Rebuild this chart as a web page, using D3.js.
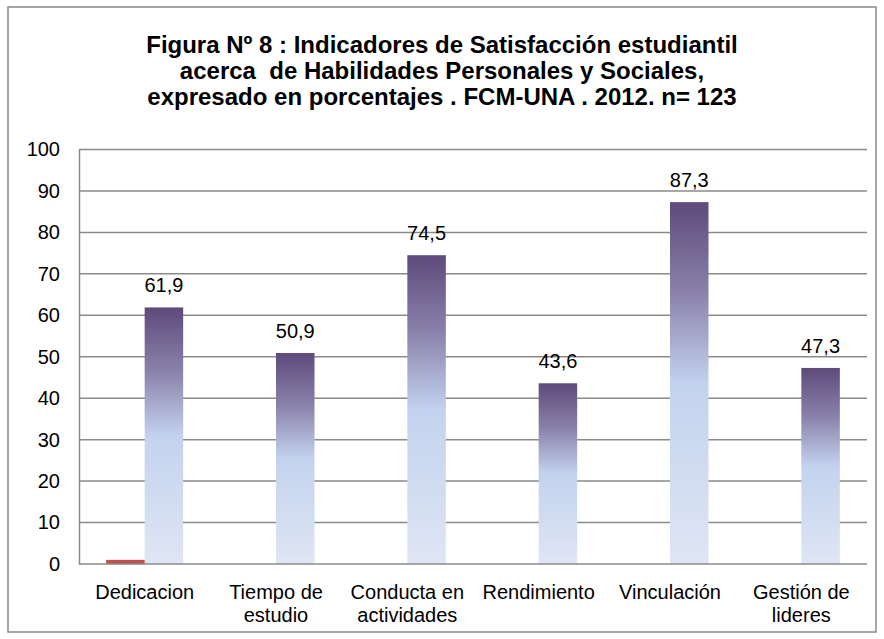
<!DOCTYPE html>
<html>
<head>
<meta charset="utf-8">
<script src="https://cdn.jsdelivr.net/npm/d3@7"></script>
<style>
  html, body { margin: 0; padding: 0; background: #fff; }
  svg { display: block; font-family: "Liberation Sans", Arial, sans-serif; }
</style>
</head>
<body>
<svg id="chart" width="884" height="639"></svg>
<script>
const titleLines = [
  "Figura Nº 8 : Indicadores de Satisfacción estudiantil",
  "acerca  de Habilidades Personales y Sociales,",
  "expresado en porcentajes . FCM-UNA . 2012. n= 123"
];
const categories = [
  ["Dedicacion"],
  ["Tiempo de", "estudio"],
  ["Conducta en", "actividades"],
  ["Rendimiento"],
  ["Vinculación"],
  ["Gestión de", "lideres"]
];
const seriesRed = [1, 0, 0, 0, 0, 0];
const seriesMain = [61.9, 50.9, 74.5, 43.6, 87.3, 47.3];
const mainLabels = ["61,9", "50,9", "74,5", "43,6", "87,3", "47,3"];
const yTicks = [0, 10, 20, 30, 40, 50, 60, 70, 80, 90, 100];

const svg = d3.select("#chart");
const margin = { left: 79, right: 867, top: 149.5, bottom: 564 };

// frame
svg.append("rect").attr("x", 8).attr("y", 7).attr("width", 868).attr("height", 625)
  .attr("fill", "#fff").attr("stroke", "#898989").attr("stroke-width", 1.5);

// title
svg.append("g").selectAll("text").data(titleLines).join("text")
  .attr("x", 442).attr("y", (d, i) => 53 + i * 26)
  .attr("text-anchor", "middle").attr("font-size", 24).attr("font-weight", "bold")
  .attr("fill", "#000")
  .style("white-space", "pre")
  .text(d => d);

const keys = categories.map((c, i) => i);
const x = d3.scaleBand().domain(keys).range([margin.left, margin.right]).paddingInner(0).paddingOuter(0);
const y = d3.scaleLinear().domain([0, 100]).range([margin.bottom, margin.top]);
const barW = 38.5;

// gradient
const defs = svg.append("defs");
const grad = defs.append("linearGradient").attr("id", "barGrad")
  .attr("x1", 0).attr("y1", 0).attr("x2", 0).attr("y2", 1);
grad.append("stop").attr("offset", "0%").attr("stop-color", "#5e4a7b");
grad.append("stop").attr("offset", "25%").attr("stop-color", "#8a82ab");
grad.append("stop").attr("offset", "50%").attr("stop-color", "#c3d2ee");
grad.append("stop").attr("offset", "100%").attr("stop-color", "#dfe6f4");

// gridlines
svg.append("g").selectAll("line").data(yTicks.filter(t => t > 0)).join("line")
  .attr("x1", margin.left).attr("x2", margin.right)
  .attr("y1", d => y(d)).attr("y2", d => y(d))
  .attr("stroke", "#8a8a8a").attr("stroke-width", 1.5);

// y axis
const yAxis = d3.axisLeft(y).tickValues(yTicks).tickSize(0).tickPadding(19);
const gy = svg.append("g").attr("transform", `translate(${margin.left},0)`).call(yAxis);
gy.select(".domain").attr("stroke", "#8a8a8a").attr("stroke-width", 1.5);
gy.selectAll("text").attr("font-size", 20).attr("fill", "#000")
  .attr("font-family", "Liberation Sans, Arial, sans-serif");

// bars
svg.append("g").selectAll("rect").data(seriesMain).join("rect")
  .attr("x", (d, i) => x(i) + x.bandwidth() / 2)
  .attr("y", d => y(d)).attr("width", barW)
  .attr("height", d => y(0) - y(d))
  .attr("fill", "url(#barGrad)");

svg.append("g").selectAll("rect").data(seriesRed).join("rect")
  .attr("x", (d, i) => x(i) + x.bandwidth() / 2 - barW)
  .attr("y", d => y(d)).attr("width", barW)
  .attr("height", d => y(0) - y(d))
  .attr("fill", "#c0504d");

// x axis baseline
svg.append("line").attr("x1", margin.left).attr("x2", margin.right)
  .attr("y1", y(0)).attr("y2", y(0)).attr("stroke", "#8a8a8a").attr("stroke-width", 1.5);

// data labels
svg.append("g").selectAll("text").data(seriesMain).join("text")
  .attr("x", (d, i) => x(i) + x.bandwidth() / 2 + barW / 2)
  .attr("y", d => y(d) - 15)
  .attr("text-anchor", "middle").attr("font-size", 20).attr("fill", "#000")
  .text((d, i) => mainLabels[i]);

// category labels
const cg = svg.append("g").selectAll("text").data(categories).join("text")
  .attr("x", (d, i) => x(i) + x.bandwidth() / 2)
  .attr("y", 599)
  .attr("text-anchor", "middle").attr("font-size", 20).attr("fill", "#000");
cg.selectAll("tspan").data(d => d).join("tspan")
  .attr("x", function() { return d3.select(this.parentNode).attr("x"); })
  .attr("dy", (d, i) => i === 0 ? 0 : 23)
  .text(d => d);
</script>
</body>
</html>
